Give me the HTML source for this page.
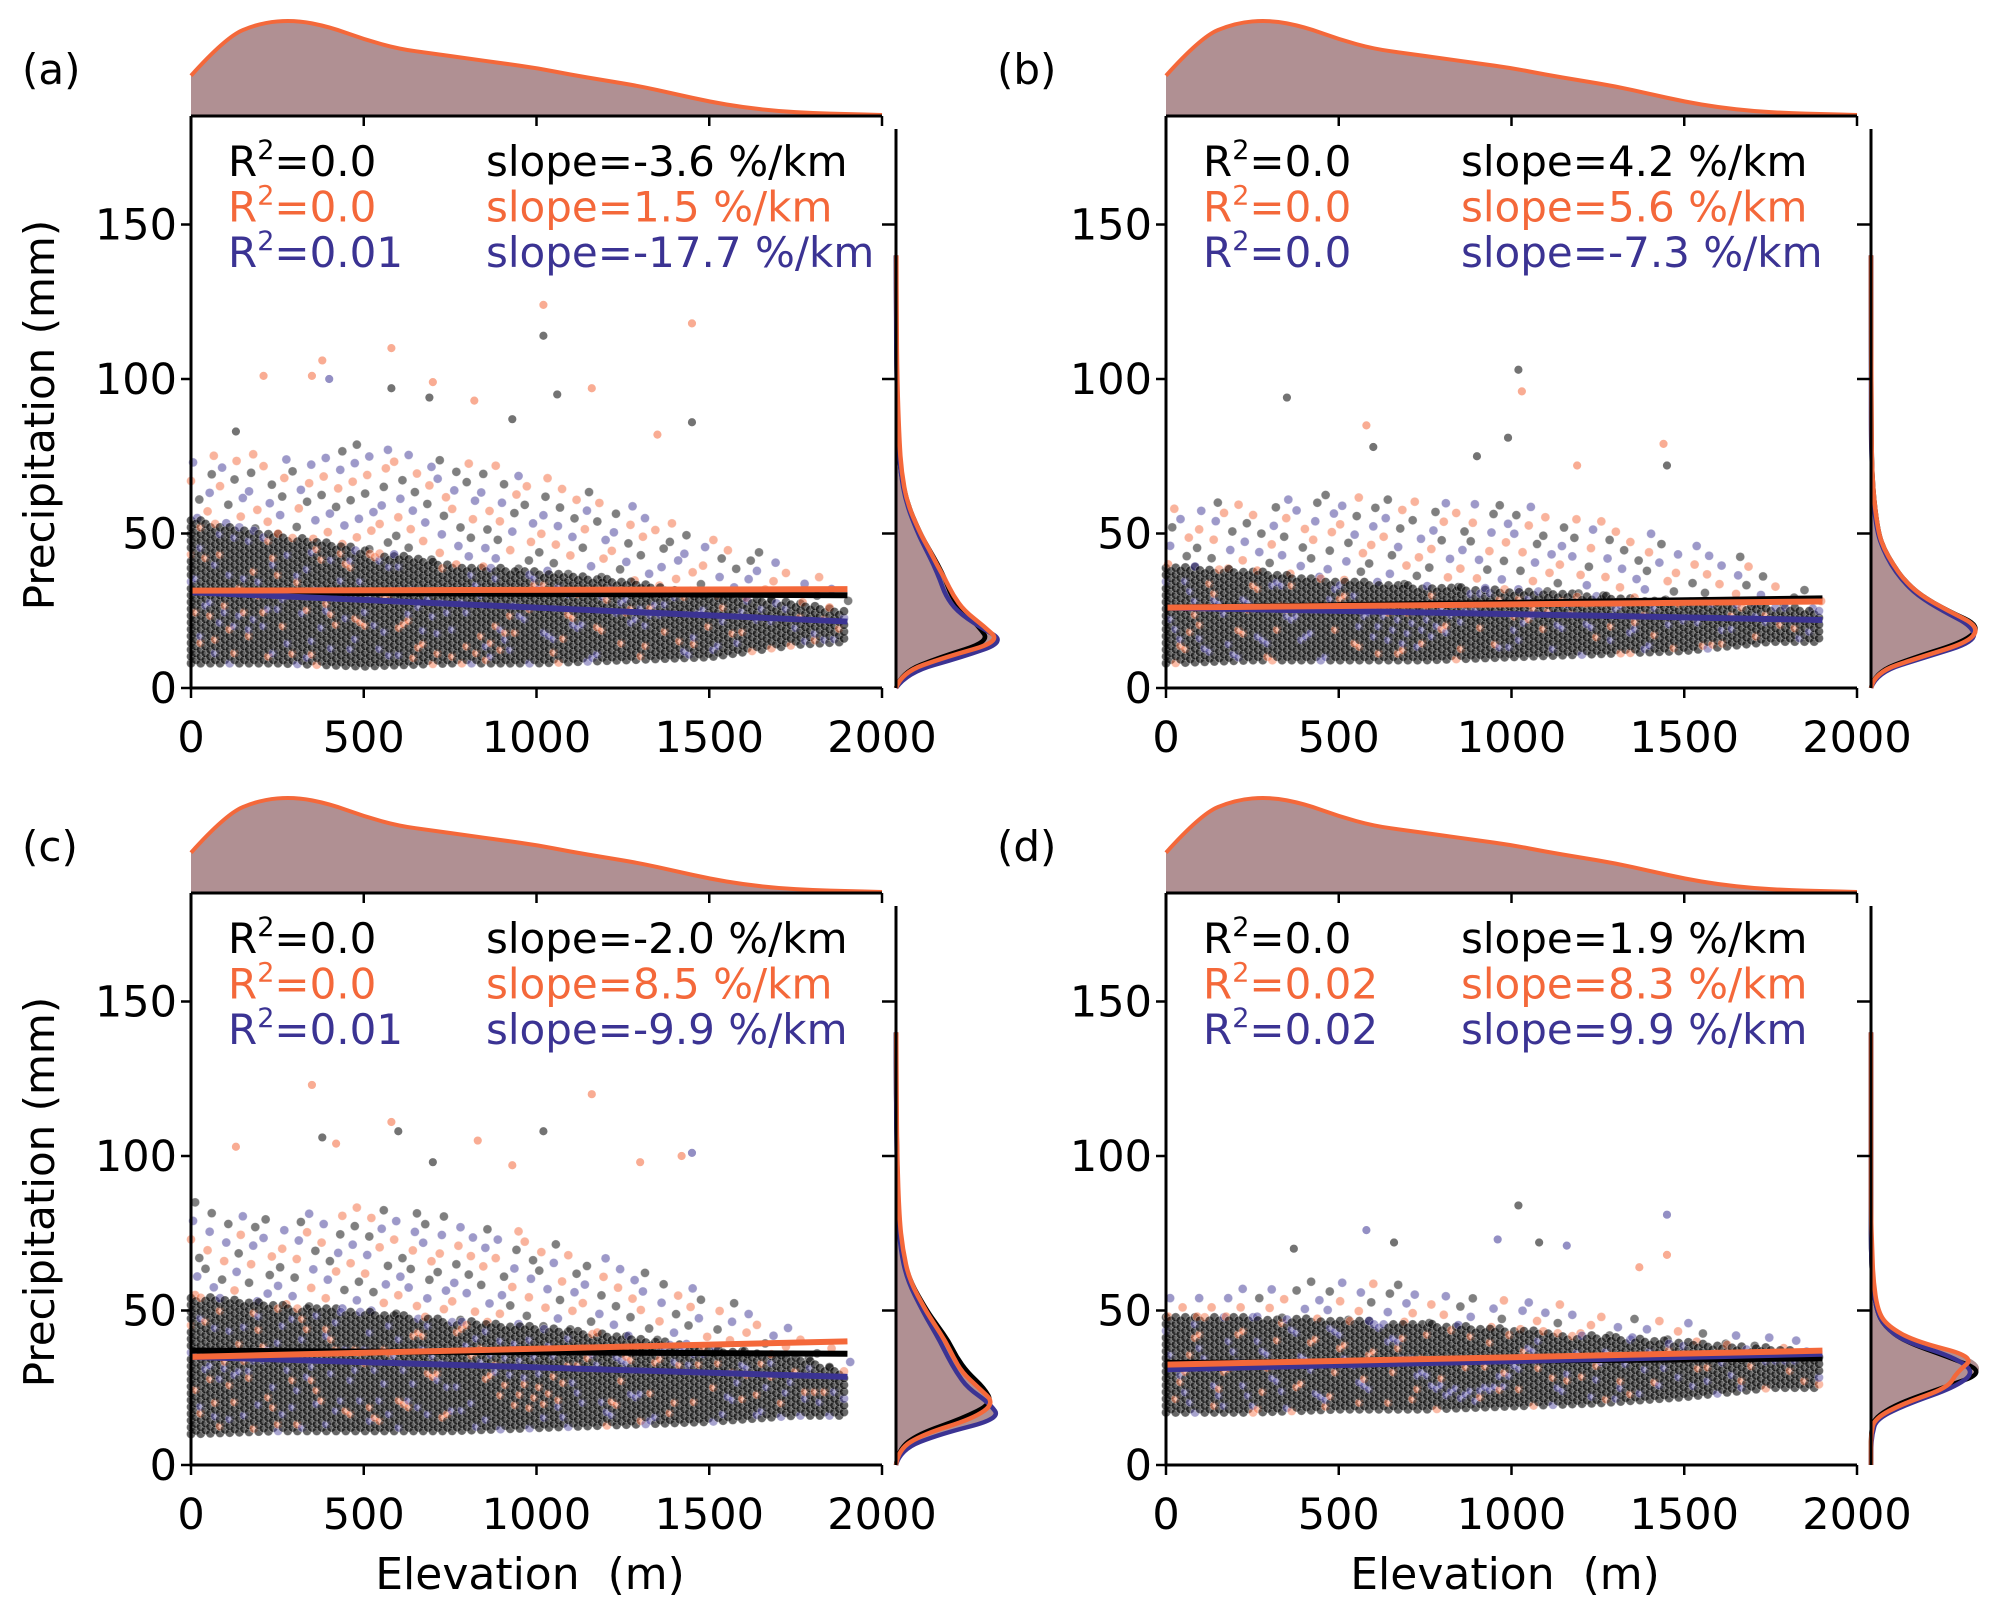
<!DOCTYPE html>
<html><head><meta charset="utf-8"><style>
html,body{margin:0;padding:0;background:#fff}
svg{display:block;font-family:"DejaVu Sans","Liberation Sans",sans-serif}
</style></head><body>
<svg id="fig" width="2015" height="1618" viewBox="0 0 2015 1618" xmlns="http://www.w3.org/2000/svg"></svg>
<script>
// ---- data ----
const panelLabels=["(a)","(b)","(c)","(d)"];
const xTicks=[0,500,1000,1500,2000];
const yTicks=[0,50,100,150];
const r2Black=["0.0","0.0","0.0","0.0"];
const r2Orange=["0.0","0.0","0.0","0.02"];
const r2Blue=["0.01","0.0","0.01","0.02"];
const slopeBlack=["-3.6","4.2","-2.0","1.9"];
const slopeOrange=["1.5","5.6","8.5","8.3"];
const slopeBlue=["-17.7","-7.3","-9.9","9.9"];
// regression line endpoints (value at 0 m and at 1900 m)
const regBlack=[[31,30],[26,29],[37,36],[33,34.5]];
const regOrange=[[31.5,32],[26,28],[35,40],[32.5,37]];
const regBlue=[[31,21.5],[26,22],[35,28.5],[31,36]];
// scatter envelopes per elevation bin
const envBins=[0,250,500,750,1000,1250,1500,1750,1900];
const envLo=[[8,8,7,8,8,9,10,14,15],[8,9,9,9,10,11,12,15,15],[10,11,11,11,12,13,14,16,16],[17,17,18,18,19,20,22,25,25]];
const envCore=[[55,50,45,40,38,35,30,28,25],[40,38,35,33,32,30,28,27,25],[55,52,50,47,45,42,38,35,30],[48,48,47,46,44,42,40,38,36]];
const envHi=[[78,75,80,75,70,60,50,40,30],[60,60,65,60,60,55,48,38,30],[85,80,85,80,75,65,55,45,35],[55,58,60,58,55,50,47,42,38]];
// outliers [elev, precip, series 0=black 1=orange 2=blue]
const outliers=[
 [[1020,124,1],[1020,114,0],[1450,118,1],[580,110,1],[380,106,1],[350,101,1],[210,101,1],[400,100,2],[580,97,0],[700,99,1],[690,94,0],[1160,97,1],[1060,95,0],[820,93,1],[930,87,0],[1450,86,0],[1350,82,1],[130,83,0]],
 [[1020,103,0],[1030,96,1],[350,94,0],[580,85,1],[990,81,0],[1440,79,1],[1190,72,1],[1450,72,0],[600,78,0],[900,75,0]],
 [[350,123,1],[1160,120,1],[580,111,1],[600,108,0],[1020,108,0],[380,106,0],[420,104,1],[130,103,1],[1450,101,2],[1420,100,1],[830,105,1],[700,98,0],[930,97,1],[1300,98,1]],
 [[1020,84,0],[1450,81,2],[580,76,2],[660,72,0],[1080,72,0],[960,73,2],[1160,71,2],[1450,68,1],[370,70,0],[1370,64,1]]
];
// top marginal KDE (elevation), normalised
const kdeX=[0,100,200,300,400,500,600,700,800,900,1000,1100,1200,1300,1400,1500,1600,1700,1800,1900,2000];
const kdeTop=[0.42,0.82,0.97,1.0,0.93,0.8,0.7,0.65,0.6,0.55,0.5,0.43,0.37,0.31,0.23,0.15,0.09,0.05,0.03,0.02,0.01];
// right marginal KDE (precipitation)
const kdeY=[0,5,10,15,20,25,30,35,40,45,50,60,70,80,100,120,140];
const kdeBlack=[[0,0.05,0.4,0.85,0.75,0.6,0.5,0.45,0.38,0.3,0.22,0.1,0.04,0.02,0.005,0.002,0],
 [0,0.03,0.4,0.85,1.0,0.7,0.45,0.3,0.2,0.12,0.07,0.03,0.01,0.005,0.002,0,0],
 [0,0.02,0.2,0.6,0.88,0.8,0.65,0.55,0.48,0.38,0.28,0.12,0.05,0.02,0.01,0,0],
 [0,0,0,0.02,0.25,0.65,1.05,0.7,0.3,0.12,0.05,0.01,0,0,0,0,0]];
const kdeOrange=[[0,0.05,0.45,0.95,0.8,0.62,0.52,0.45,0.37,0.3,0.22,0.1,0.05,0.03,0.01,0.005,0.003],
 [0,0.03,0.45,0.9,0.98,0.7,0.45,0.3,0.2,0.12,0.07,0.03,0.01,0.005,0.003,0,0],
 [0,0.02,0.25,0.7,0.9,0.75,0.6,0.52,0.45,0.36,0.27,0.12,0.06,0.03,0.01,0.005,0.002],
 [0,0,0,0.03,0.3,0.7,0.78,0.95,0.4,0.15,0.06,0.02,0.01,0,0,0,0]];
const kdeBlue=[[0,0.1,0.6,1.0,0.75,0.55,0.45,0.4,0.34,0.27,0.2,0.09,0.04,0.02,0.005,0,0],
 [0,0.05,0.5,0.95,0.92,0.65,0.42,0.28,0.18,0.11,0.06,0.02,0.01,0,0,0,0],
 [0,0.04,0.4,0.95,0.85,0.65,0.55,0.47,0.4,0.32,0.24,0.1,0.04,0.02,0.005,0,0],
 [0,0,0.01,0.05,0.35,0.75,0.95,0.75,0.3,0.12,0.05,0.01,0,0,0,0,0]];

// ---- drawing ----
const NS="http://www.w3.org/2000/svg";
const svg=document.getElementById('fig');
const COL=["#000000","#f4683a","#3b3393"];
function el(tag,attrs,parent){const e=document.createElementNS(NS,tag);for(const k in attrs)e.setAttribute(k,attrs[k]);(parent||svg).appendChild(e);return e;}
function interp(xs,ys,x){for(let i=0;i<xs.length-1;i++){if(x<=xs[i+1]){const t=(x-xs[i])/(xs[i+1]-xs[i]);return ys[i]+t*(ys[i+1]-ys[i]);}}return ys[ys.length-1];}
function smooth(pts){let d='M'+pts[0][0]+','+pts[0][1];
 for(let i=1;i<pts.length-1;i++){const mx=(pts[i][0]+pts[i+1][0])/2,my=(pts[i][1]+pts[i+1][1])/2;d+=' Q'+pts[i][0]+','+pts[i][1]+' '+mx+','+my;}
 const l=pts[pts.length-1];d+=' L'+l[0]+','+l[1];return d;}
const offs=[[0,0],[975,0],[0,777],[975,777]];
for(let p=0;p<4;p++){
 const ox=offs[p][0],oy=offs[p][1];
 const X0=ox+191,X1=ox+882,Y0=oy+688,YT=oy+116,RS=ox+896;
 const xs=e=>X0+e*(X1-X0)/2000;
 const ys=v=>Y0-v*(463.5/150);
 const g=el('g',{},svg);
 
 
 const pl=el('text',{x:ox+22,y:oy+84,'font-size':42},g);pl.textContent=panelLabels[p];
 
 // top marginal
 const tpts=kdeX.map((e,i)=>[xs(e),YT-kdeTop[i]*96]);
 const tf=el('path',{d:smooth(tpts)+' L'+xs(2000)+','+YT+' L'+xs(0)+','+YT+' Z',fill:'#b09093',stroke:'none'},g);
 
 const tl=el('path',{d:smooth(tpts),fill:'none',stroke:COL[1],'stroke-width':4},g);
 
 // scatter
 const sg=el('g',{},g);
 
 let k=0;
 for(let e=0,row=0;e<=1900;e+=14,row++){
  const lo=interp(envBins,envLo[p],e),co=interp(envBins,envCore[p],e),hi=interp(envBins,envHi[p],e);
  const sh=(row%2)*1.1;
  for(let v=lo+sh;v<=co;v+=2.2){k++;
   const s=(k%13==0)?2:((k%17==0)?1:0);
   const c=el('circle',{cx:xs(e),cy:ys(v),r:4.5,fill:COL[s],'fill-opacity':s?0.45:0.6,stroke:'#fff','stroke-opacity':0.35,'stroke-width':0.8},sg);
   }
  if(row%3==0){for(let v=co+(row%2)*3;v<=hi;v+=6){k++;
   const s=k%3;
   const c=el('circle',{cx:xs(e+(k%5)*6),cy:ys(v),r:4.5,fill:COL[s],'fill-opacity':0.5,stroke:'#fff','stroke-opacity':0.4,'stroke-width':0.8},sg);
   }}
 }
 outliers[p].forEach(o=>{const c=el('circle',{cx:xs(o[0]),cy:ys(o[1]),r:4.5,fill:COL[o[2]],'fill-opacity':0.55,stroke:'#fff','stroke-width':0.8},sg);
  });
 // regression lines
 [[regBlack,0],[regBlue,2],[regOrange,1]].forEach(([r,s])=>{
  const l=el('line',{x1:xs(0),y1:ys(r[p][0]),x2:xs(1900),y2:ys(r[p][1]),stroke:COL[s],'stroke-width':6},g);
  });
 // right marginal
 const sc=110;
 const fpts=kdeY.map((v,i)=>[RS+Math.max(kdeOrange[p][i],kdeBlack[p][i],kdeBlue[p][i])*sc*0.97,ys(v)]);
 const rfe=el('path',{d:smooth(fpts)+' L'+RS+','+ys(140)+' L'+RS+','+ys(0)+' Z',fill:'#b09093'},g);
 
 [[kdeBlack,0],[kdeBlue,2],[kdeOrange,1]].forEach(([kd,s])=>{
  const pts=kdeY.map((v,i)=>[RS+kd[p][i]*sc,ys(v)]);
  const pe=el('path',{d:smooth(pts),fill:'none',stroke:COL[s],'stroke-width':4.5,'stroke-linejoin':'round'},g);
  });
 // spines
 const ax=el('path',{d:`M${X0},${YT} L${X0},${Y0} L${X1},${Y0} M${X0},${YT} L${X1},${YT} M${RS},${oy+129} L${RS},${Y0}`,fill:'none',stroke:'#000','stroke-width':3},g);
 
 xTicks.forEach(t=>{
  el('line',{x1:xs(t),y1:Y0,x2:xs(t),y2:Y0+10,stroke:'#000','stroke-width':2.5},g);
  el('line',{x1:xs(t),y1:YT,x2:xs(t),y2:YT+10,stroke:'#000','stroke-width':2.5},g);
  const tx=el('text',{x:xs(t),y:oy+752,'font-size':43,'text-anchor':'middle'},g);tx.textContent=t;
  });
 yTicks.forEach(t=>{
  el('line',{x1:X0-10,y1:ys(t),x2:X0,y2:ys(t),stroke:'#000','stroke-width':2.5},g);
  if(t>0)el('line',{x1:RS-14,y1:ys(t),x2:RS,y2:ys(t),stroke:'#000','stroke-width':2.5},g);
  const ty=el('text',{x:X0-14,y:ys(t)+15,'font-size':43,'text-anchor':'end'},g);ty.textContent=t;
  });
 // annotations
 const r2s=[r2Black,r2Orange,r2Blue],sls=[slopeBlack,slopeOrange,slopeBlue];
 for(let s=0;s<3;s++){
  const by=oy+176+s*45.5;
  const t1=el('text',{x:ox+228,y:by,'font-size':42,fill:COL[s]},g);
  t1.innerHTML='R<tspan font-size="27" dy="-17">2</tspan><tspan dy="17">='+r2s[s][p]+'</tspan>';
  
  const t2=el('text',{x:ox+486,y:by,'font-size':42,fill:COL[s]},g);
  t2.textContent='slope='+sls[s][p]+' %/km';
  
 }
 if(p%2==0){const yl=el('text',{x:0,y:0,'font-size':42,'text-anchor':'middle',transform:`translate(${ox+54},${oy+415}) rotate(-90)`},g);
  yl.textContent='Precipitation (mm)';}
 if(p>=2){const xl=el('text',{x:ox+530,y:oy+812,'font-size':44,'text-anchor':'middle'},g);
  xl.textContent='Elevation\u00a0\u00a0(m)';}
}
</script>
</body></html>
